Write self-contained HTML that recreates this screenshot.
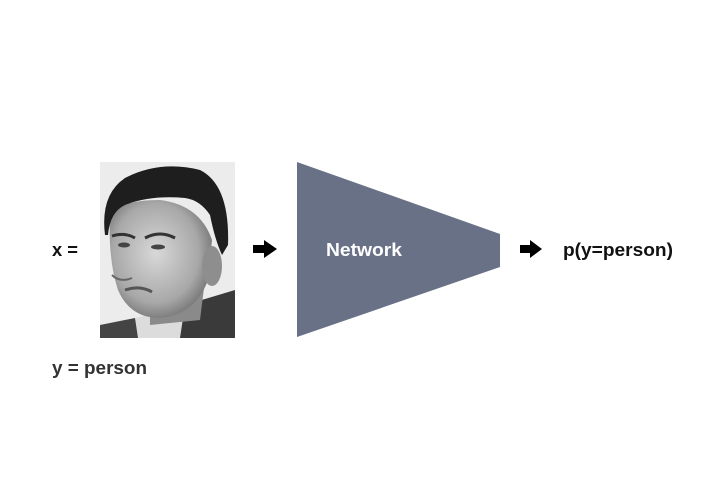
<!DOCTYPE html>
<html><head><meta charset="utf-8"><style>
body{margin:0;background:#fff;}
svg{display:block}
text{font-family:"Liberation Sans",Arial,sans-serif;font-weight:bold}
</style></head><body>
<svg width="723" height="500" viewBox="0 0 723 500" xmlns="http://www.w3.org/2000/svg">
<defs>
<radialGradient id="face" cx="0.45" cy="0.45" r="0.6">
<stop offset="0" stop-color="#d8d8d8"/><stop offset="0.7" stop-color="#a8a8a8"/><stop offset="1" stop-color="#707070"/>
</radialGradient>
<clipPath id="pc"><rect x="100" y="162" width="135" height="176"/></clipPath>
</defs>
<rect width="723" height="500" fill="#fff"/>
<text x="52" y="256" font-size="18" fill="#111" textLength="26" lengthAdjust="spacingAndGlyphs">x =</text>
<g clip-path="url(#pc)">
<rect x="100" y="162" width="135" height="176" fill="#ececec"/>
<path d="M185 305 L235 290 L235 338 L175 338 Z" fill="#3a3a3a"/>
<path d="M100 325 L135 318 L140 338 L100 338 Z" fill="#444"/>
<path d="M135 318 L185 305 L180 338 L138 338 Z" fill="#dcdcdc"/>
<path d="M150 300 L205 280 L200 320 L150 325 Z" fill="#8a8a8a"/>
<path d="M110 215 Q108 260 118 290 Q130 318 160 318 Q195 315 208 280 L212 240 Q200 205 160 200 Q120 200 110 215 Z" fill="url(#face)"/>
<ellipse cx="212" cy="266" rx="10" ry="20" fill="#8e8e8e"/>
<path d="M105 235 Q100 195 125 178 Q160 160 200 170 Q230 185 228 245 L222 255 Q215 240 210 215 Q200 200 185 198 Q150 195 125 205 Q110 212 108 235 Z" fill="#1e1e1e"/>
<path d="M112 236 Q125 232 135 238" stroke="#333" stroke-width="3" fill="none"/>
<path d="M145 238 Q160 230 175 238" stroke="#333" stroke-width="3" fill="none"/>
<ellipse cx="124" cy="245" rx="6" ry="2.5" fill="#444"/>
<ellipse cx="158" cy="247" rx="7" ry="2.5" fill="#444"/>
<path d="M125 290 Q140 285 152 292" stroke="#555" stroke-width="3" fill="none"/>
<path d="M112 275 Q120 283 132 278" stroke="#666" stroke-width="2" fill="none"/>
</g>
<path d="M253 245 H264 V240 L277 249 L264 258 V253 H253 Z" fill="#000"/>
<polygon points="297,162 500,234 500,267 297,337" fill="#697187"/>
<text x="326" y="256" font-size="18" fill="#fff" textLength="76" lengthAdjust="spacingAndGlyphs">Network</text>
<path d="M520 245 H530 V240 L542 249 L530 258 V253 H520 Z" fill="#000"/>
<text x="563" y="256" font-size="18" fill="#111" textLength="110" lengthAdjust="spacingAndGlyphs">p(y=person)</text>
<text x="52" y="374" font-size="18" fill="#333" textLength="95" lengthAdjust="spacingAndGlyphs">y = person</text>
</svg>
</body></html>
